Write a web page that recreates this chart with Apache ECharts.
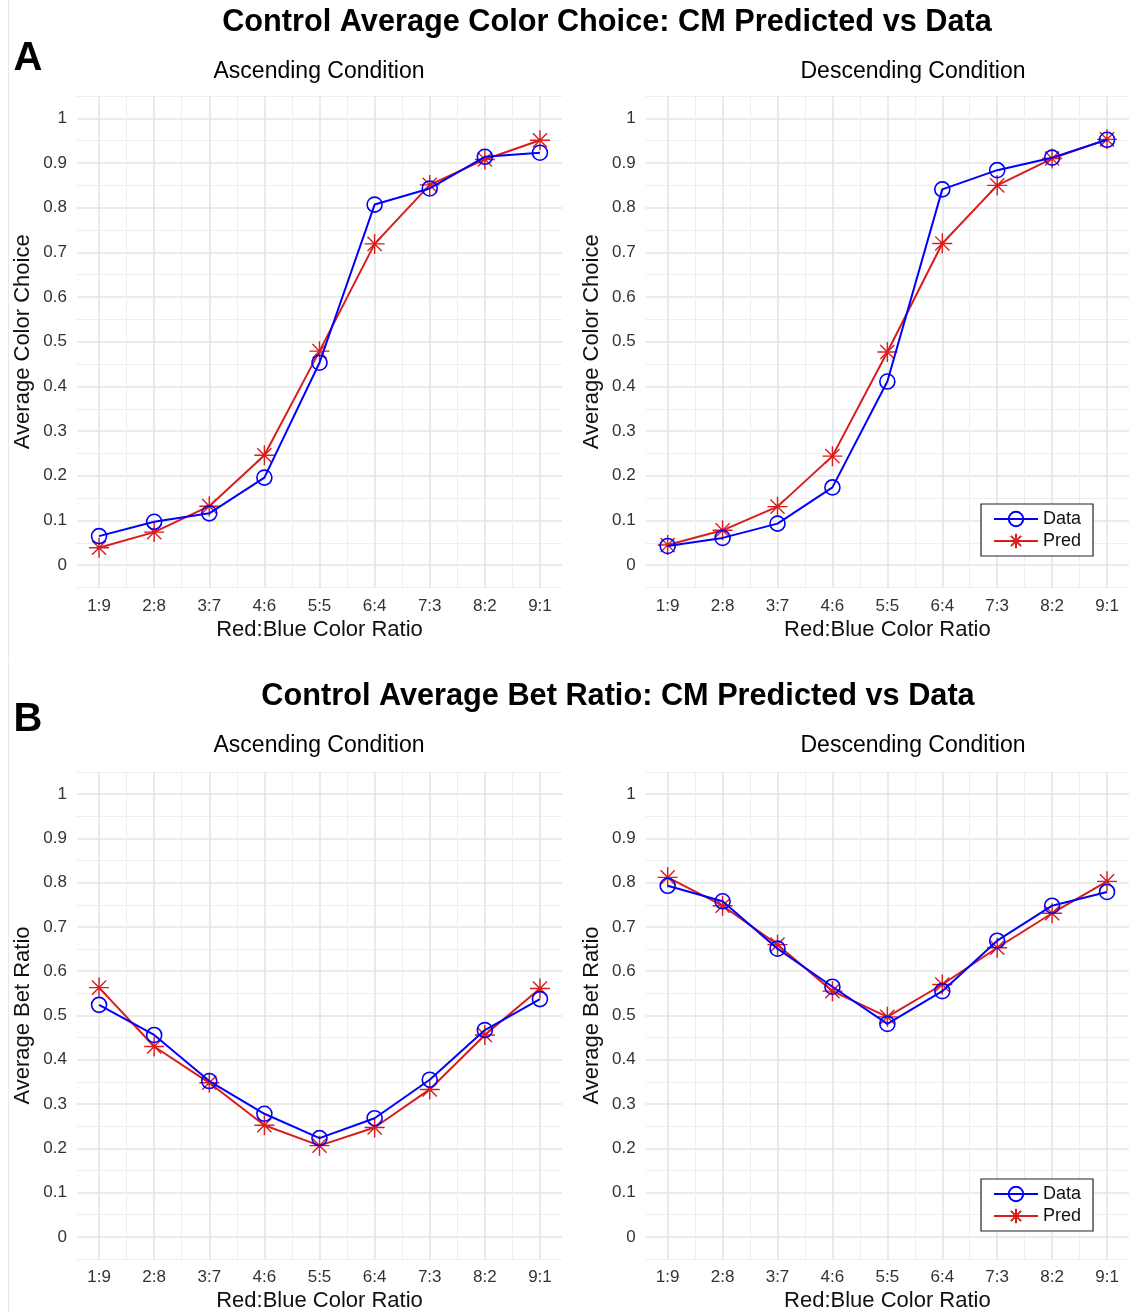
<!DOCTYPE html>
<html>
<head>
<meta charset="utf-8">
<script src="https://cdn.jsdelivr.net/npm/echarts@6/dist/echarts.min.js"></script>
<style>
html,body{margin:0;padding:0;background:#fff;}
#chart{width:1129px;height:1313px;}
</style>
</head>
<body>
<div id="chart"></div>
<script>
// ---- data ----
const categories = ['1:9','2:8','3:7','4:6','5:5','6:4','7:3','8:2','9:1'];
const yTicks = [0,0.1,0.2,0.3,0.4,0.5,0.6,0.7,0.8,0.9,1];

const choiceAscData = [0.065,0.097,0.116,0.196,0.453,0.807,0.843,0.914,0.923];
const choiceAscPred = [0.039,0.074,0.132,0.246,0.479,0.719,0.851,0.908,0.951];
const choiceDescData = [0.043,0.061,0.093,0.174,0.411,0.841,0.884,0.912,0.952];
const choiceDescPred = [0.045,0.078,0.131,0.244,0.477,0.720,0.850,0.910,0.953];

const betAscData = [0.524,0.456,0.352,0.278,0.223,0.268,0.355,0.467,0.537];
const betAscPred = [0.563,0.430,0.348,0.252,0.206,0.247,0.333,0.456,0.561];
const betDescData = [0.793,0.758,0.651,0.565,0.481,0.555,0.669,0.748,0.779];
const betDescPred = [0.812,0.748,0.660,0.555,0.497,0.570,0.653,0.731,0.803];

// ---- helpers ----
const FONT = '"Liberation Sans", Arial, Helvetica, sans-serif';
const BLUE = '#0000ff';
const RED = '#d91c1c';
const STAR = 'path://M0,-10L0,10M-10,0L10,0M-7.07,-7.07L7.07,7.07M-7.07,7.07L7.07,-7.07';

const grids = [
  {left:77, top:96, width:485, height:491.5},
  {left:645.7, top:96, width:484.6, height:491.5},
  {left:77, top:772, width:485, height:490.3},
  {left:645.7, top:772, width:484.6, height:490.3}
];
const yNames = ['Average Color Choice','Average Color Choice','Average Bet Ratio','Average Bet Ratio'];
const panels = [
  [choiceAscData, choiceAscPred],
  [choiceDescData, choiceDescPred],
  [betAscData, betAscPred],
  [betDescData, betDescPred]
];

const xAxes = [], yAxes = [], series = [];
const xPos = categories.map((c,i)=>i+1);

grids.forEach((g,gi)=>{
  xAxes.push({
    gridIndex: gi, type:'value', min:0.6, max:9.4,
    axisLine:{show:false}, axisTick:{show:false}, splitLine:{show:false},
    axisLabel:{
      customValues: xPos,
      formatter: v => { const k=Math.round(v); return Math.abs(v-k)<1e-6 && k>=1 && k<=9 ? categories[k-1] : ''; },
      fontFamily:FONT, fontSize:17, color:'#333', margin:10
    },
    name:'Red:Blue Color Ratio', nameLocation:'middle', nameGap:31,
    nameTextStyle:{fontFamily:FONT, fontSize:22, color:'#111'}
  });
  yAxes.push({
    gridIndex: gi, type:'value', min:-0.05, max:1.05, interval:0.05,
    axisLine:{show:false}, axisTick:{show:false}, splitLine:{show:false},
    axisLabel:{
      formatter: v => {
        const t = yTicks.find(t=>Math.abs(t-v)<1e-6);
        return t===undefined ? '' : String(t);
      },
      fontFamily:FONT, fontSize:17, color:'#333', margin:10
    },
    name: yNames[gi], nameLocation:'middle', nameGap:43,
    nameTextStyle:{fontFamily:FONT, fontSize:22, color:'#111'}
  });

  // grid lines (major at ticks/categories, minor in between)
  const ml = [];
  const major = {color:'#e5e5e5', width:1.6, type:'solid'};
  const minor = {color:'#eeeeee', width:1, type:'solid'};
  yTicks.forEach(t=>ml.push({yAxis:t, lineStyle:major}));
  yTicks.forEach(t=>ml.push({yAxis:+(t-0.05).toFixed(2), lineStyle:minor}));
  ml.push({yAxis:1.05, lineStyle:minor});
  xPos.forEach(x=>ml.push({xAxis:x, lineStyle:major}));
  xPos.slice(0,-1).forEach(x=>ml.push({xAxis:x+0.5, lineStyle:minor}));
  series.push({
    type:'line', xAxisIndex:gi, yAxisIndex:gi, data:[], silent:true, z:0,
    markLine:{silent:true, z:0, symbol:'none', label:{show:false}, animation:false,
      lineStyle:{type:'solid'}, emphasis:{disabled:true}, data:ml}
  });

  const [dat, pred] = panels[gi];
  series.push({
    name:'Pred', type:'line', xAxisIndex:gi, yAxisIndex:gi, z:3,
    data: pred.map((v,i)=>[xPos[i], v]),
    symbol: STAR, symbolSize:20,
    lineStyle:{color:RED, width:2, type:'solid'},
    itemStyle:{color:RED, borderColor:RED, borderWidth:1.4},
    animation:false
  });
  series.push({
    name:'Data', type:'line', xAxisIndex:gi, yAxisIndex:gi, z:4,
    data: dat.map((v,i)=>[xPos[i], v]),
    symbol:'circle', symbolSize:15,
    lineStyle:{color:BLUE, width:2, type:'solid'},
    itemStyle:{color:'rgba(255,255,255,0)', borderColor:BLUE, borderWidth:1.6},
    animation:false
  });
});

const legendCommon = {
  orient:'vertical', data:['Data','Pred'], z:10,
  itemWidth:44, itemHeight:18, itemGap:4,
  padding:[6,12,6,12],
  backgroundColor:'#fff', borderColor:'#222', borderWidth:1.2, borderRadius:0,
  textStyle:{fontFamily:FONT, fontSize:18, color:'#111'},
  selectedMode:false
};

const textEl = (text, x, y, size, weight) => ({
  type:'text', x, y, silent:true,
  style:{text, fill:'#000', font: (weight||'normal')+' '+size+'px '+FONT, textAlign:'center', textVerticalAlign:'middle'}
});

const option = {
  backgroundColor:'#fff',
  animation:false,
  grid: grids,
  xAxis: xAxes,
  yAxis: yAxes,
  series: series,
  legend: [
    Object.assign({left:981, top:504}, legendCommon),
    Object.assign({left:981, top:1179}, legendCommon)
  ],
  graphic: [
    {type:'line', shape:{x1:8.5,y1:0,x2:8.5,y2:1313}, style:{stroke:'#f1e6e6', lineWidth:1}, silent:true},
    textEl('Control Average Color Choice: CM Predicted vs Data', 607, 23, 30.7, 'bold'),
    textEl('A', 28, 59, 40, 'bold'),
    textEl('Ascending Condition', 319, 72, 23),
    textEl('Descending Condition', 913, 72, 23),
    textEl('Control Average Bet Ratio: CM Predicted vs Data', 618, 697, 30.7, 'bold'),
    textEl('B', 28, 720, 40, 'bold'),
    textEl('Ascending Condition', 319, 746, 23),
    textEl('Descending Condition', 913, 746, 23)
  ]
};

const chart = echarts.init(document.getElementById('chart'), null, {renderer:'canvas'});
chart.setOption(option);
</script>
</body>
</html>
